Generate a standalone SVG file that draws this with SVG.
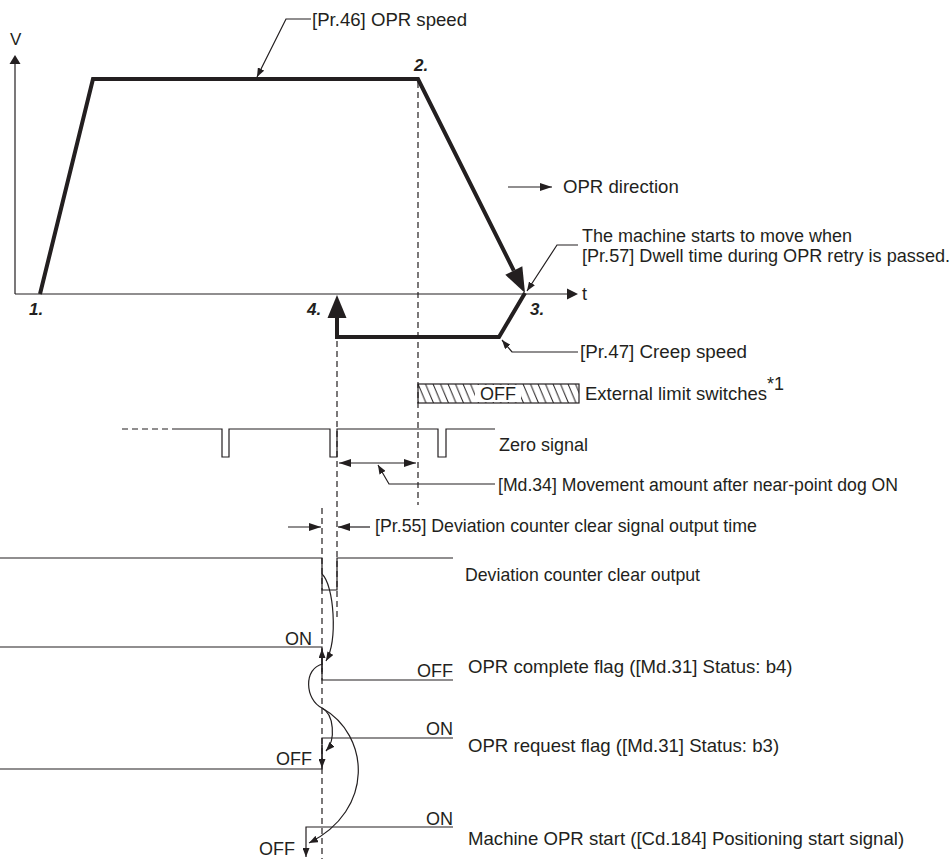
<svg xmlns="http://www.w3.org/2000/svg" width="950" height="859" viewBox="0 0 950 859">
<style>
text{font-family:"Liberation Sans",Arial,sans-serif;font-size:18px;fill:#231f20}
.num{font-weight:bold;font-style:italic;font-size:17px}
.thin{fill:none;stroke:#231f20;stroke-width:1.2}
.thick{fill:none;stroke:#231f20;stroke-width:4;stroke-linejoin:miter}
.dash{fill:none;stroke:#231f20;stroke-width:1.2;stroke-dasharray:6,4}
.fill{fill:#231f20;stroke:none}
</style>
<defs>
<marker id="sa" viewBox="0 0 9 7" refX="9" refY="3.5" markerWidth="9" markerHeight="7" markerUnits="userSpaceOnUse" orient="auto"><path d="M0,0 L9,3.5 L0,7 z" fill="#231f20"/></marker>
<marker id="ma" viewBox="0 0 12 8" refX="12" refY="4" markerWidth="12" markerHeight="8" markerUnits="userSpaceOnUse" orient="auto-start-reverse"><path d="M0,0 L12,4 L0,8 z" fill="#231f20"/></marker>
<pattern id="hatch" patternUnits="userSpaceOnUse" x="418" y="384" width="7.5" height="19"><path d="M-7.5,0 L0.5,19 M0,0 L8,19 M7.5,0 L15.5,19" stroke="#231f20" stroke-width="1"/></pattern>
</defs>

<g id="axes">
<path class="thin" d="M15,294 V63"/>
<polygon class="fill" points="15,55 9.5,64 20.5,64"/>
<path class="thin" d="M15,294 H568"/>
<polygon class="fill" points="578,294 567,288.5 567,299.5"/>
<text x="10" y="45" style="font-size:17px">V</text>
<text x="582" y="300">t</text>
</g>

<g id="speed-profile">
<path class="thick" d="M40,294 L93,79 L418,79 L513.8,270.6"/>
<polygon class="fill" points="525,293 505.3,274.8 522.3,266.3"/>
<path class="thick" d="M525,293 L499,337 L337,337 L337,316"/>
<polygon class="fill" points="337,295 327.5,318 346.5,318"/>
<text class="num" x="29" y="315">1.</text>
<text class="num" x="414" y="71">2.</text>
<text class="num" x="530" y="315">3.</text>
<text class="num" x="307" y="315">4.</text>
</g>

<g id="connectors">
<path class="dash" d="M418,82 V505"/>
<path class="dash" d="M337,341 V620"/>
<path class="dash" d="M322,508 V859"/>
<polyline class="thin" points="311,19 286,19 257,77" marker-end="url(#sa)"/>
<polyline class="thin" points="578,245 557,245 527,291" marker-end="url(#sa)"/>
<polyline class="thin" points="578,352 512,352 502,340" marker-end="url(#sa)"/>
<polyline class="thin" points="495,484 389,484 378,465" marker-end="url(#sa)"/>
<path class="thin" d="M339,463 H416" marker-start="url(#ma)" marker-end="url(#ma)"/>
<path class="thin" d="M288,527 H321" marker-end="url(#ma)"/>
<path class="thin" d="M370,527 H338" marker-end="url(#ma)"/>
<path class="thin" d="M508,187 H552" marker-end="url(#ma)"/>
<path class="thin" d="M322,574 C334,585 338,640 326,661" marker-end="url(#sa)"/>
<path class="thin" d="M323,664 C303,668 305,700 322,708 C334,714 336,740 326,751" marker-end="url(#sa)"/>
<path class="thin" d="M322,708 C370,735 375,810 309,843" marker-end="url(#sa)"/>
</g>

<g id="labels">
<text x="312" y="26" style="font-size:18.6px">[Pr.46] OPR speed</text>
<text x="563" y="193" style="font-size:18.6px">OPR direction</text>
<text x="582" y="242">The machine starts to move when</text>
<text x="582" y="262" style="font-size:18.1px">[Pr.57] Dwell time during OPR retry is passed.</text>
<text x="580" y="358" style="font-size:18.8px">[Pr.47] Creep speed</text>
<text x="498" y="491" style="font-size:17.65px">[Md.34] Movement amount after near-point dog ON</text>
<text x="375" y="532" style="font-size:17.75px">[Pr.55] Deviation counter clear signal output time</text>
</g>

<g id="limit-switches">
<rect x="418" y="384" width="161" height="19" fill="url(#hatch)" stroke="#231f20" stroke-width="1.2"/>
<rect x="475" y="385" width="46" height="17" fill="#fff"/>
<text x="498" y="400" text-anchor="middle">OFF</text>
<text x="585" y="400" style="font-size:18.5px">External limit switches</text>
<text x="767" y="390">*1</text>
</g>

<g id="zero-signal">
<path class="dash" d="M122,429 H175"/>
<path class="thin" d="M175,429 H222 V457 H229 V429 H330 V457 H337 V429 H438 V457 H446 V429 H495"/>
<text x="499" y="451">Zero signal</text>
</g>

<g id="deviation-counter-clear">
<path class="thin" d="M0,558 H322 V590 H337 V558 H453"/>
<text x="465" y="581" style="font-size:17.7px">Deviation counter clear output</text>
</g>

<g id="opr-complete">
<path class="thin" d="M0,647 H322 V680 H453"/>
<path class="thin" d="M322,672 V649" marker-end="url(#sa)"/>
<text x="312" y="645" text-anchor="end">ON</text>
<text x="453" y="677" text-anchor="end">OFF</text>
<text x="468" y="673" style="font-size:18.6px">OPR complete flag ([Md.31] Status: b4)</text>
</g>

<g id="opr-request">
<path class="thin" d="M453,738 H322 V769 H0"/>
<path class="thin" d="M322,745 V768" marker-end="url(#sa)"/>
<text x="453" y="735" text-anchor="end">ON</text>
<text x="312" y="765" text-anchor="end">OFF</text>
<text x="468" y="752" style="font-size:18.6px">OPR request flag ([Md.31] Status: b3)</text>
</g>

<g id="machine-opr-start">
<path class="thin" d="M453,827 H306 V857" marker-end="url(#sa)"/>
<text x="453" y="825" text-anchor="end">ON</text>
<text x="295" y="855" text-anchor="end">OFF</text>
<text x="468" y="845" style="font-size:18.6px">Machine OPR start ([Cd.184] Positioning start signal)</text>
</g>
</svg>
